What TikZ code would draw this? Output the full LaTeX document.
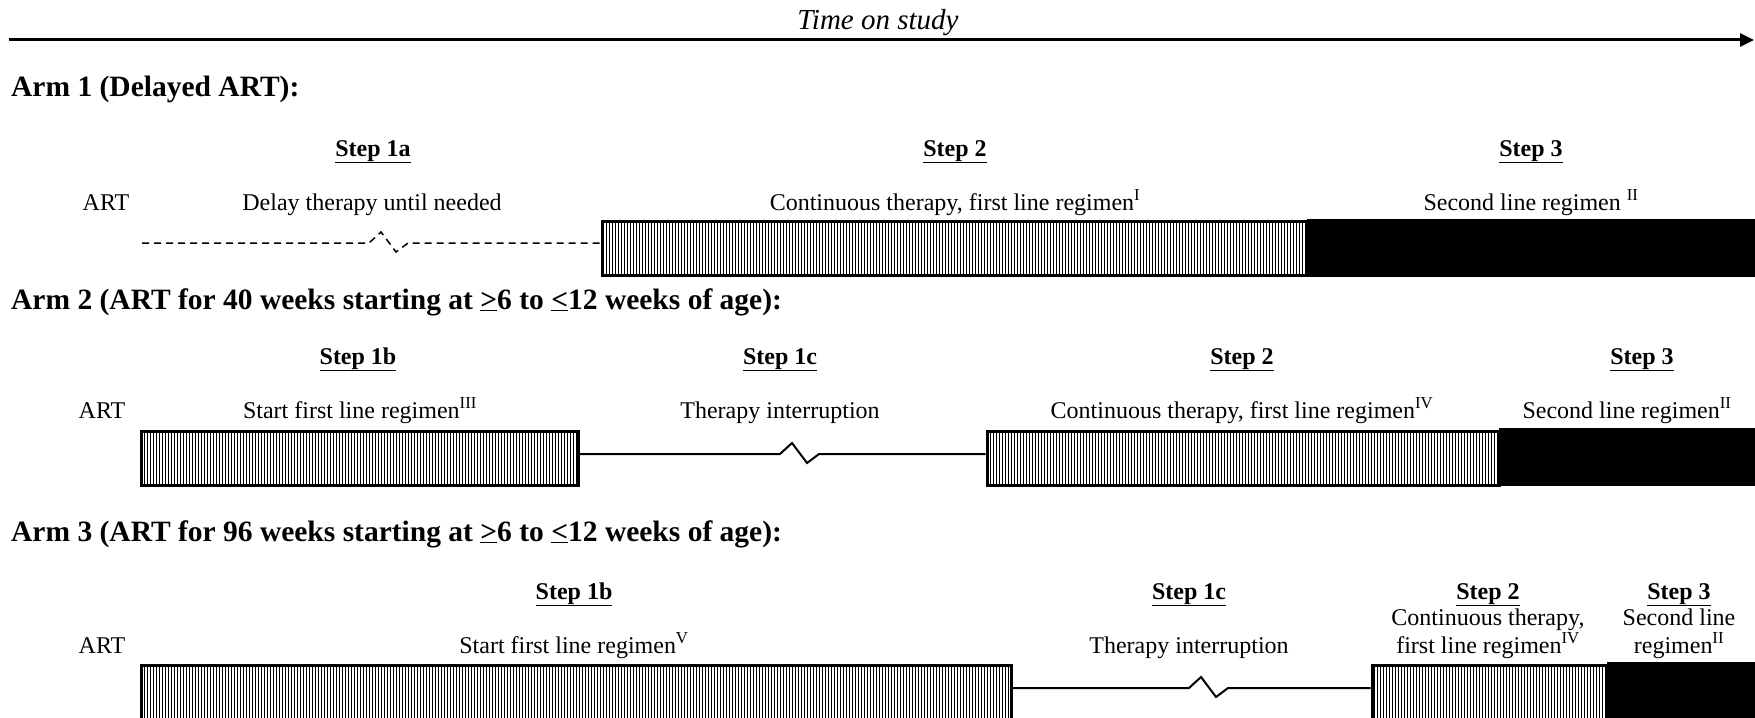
\documentclass[tikz,border=0pt]{standalone}
\usepackage{fontspec}
\setmainfont{Liberation Serif}
\usetikzlibrary{arrows.meta,patterns.meta}
\begin{document}
\begin{tikzpicture}[x=1pt,y=-1pt,
  body/.style={font=\fontsize{24}{28}\selectfont, inner sep=0pt, anchor=base},
  steplabel/.style={font=\fontsize{24}{28}\selectfont\bfseries, inner sep=0pt, anchor=base},
  armhead/.style={font=\fontsize{29.5}{34}\selectfont\bfseries, inner sep=0pt, anchor=base west},
  hatchbar/.style={draw, line width=3pt, pattern={Lines[angle=90,distance=3pt,line width=1pt]}, minimum height=54pt, inner sep=0pt, anchor=north west},
  blackbar/.style={fill=black, draw=black, line width=0.5pt, minimum height=56.5pt, inner sep=0pt, anchor=north west},
  gapline/.style={line width=2pt},
  delayline/.style={line width=1.5pt, dash pattern=on 7pt off 5pt},
  timeaxis/.style={line width=3pt, -{Triangle[length=14pt,width=13pt]}},
]
\useasboundingbox (0,0) rectangle (1755,717);
\clip (0,0) rectangle (1755,717);

% time axis
\node[font=\fontsize{29}{34}\selectfont\itshape, inner sep=0pt, anchor=base] (title) at (878,30) {Time on study};
\coordinate (ax0) at (9,40);
\coordinate (ax1) at (1754,40);
\draw[timeaxis] (ax0) -- (ax1);

% ---------------- Arm 1
\node[armhead] (h1) at (11,96) {Arm 1 (Delayed ART):};
\node[steplabel] (s1a) at (373,156) {\underline{Step 1a}};
\node[steplabel] (s12) at (955,156) {\underline{Step 2}};
\node[steplabel] (s13) at (1531,156) {\underline{Step 3}};
\node[body] (art1) at (106,210) {ART};
\node[body] (t1a) at (372,210) {Delay therapy until needed};
\node[body] (t12) at (955,210) {Continuous therapy, first line regimen\textsuperscript{I}};
\node[body] (t13) at (1531,210) {Second line regimen \textsuperscript{II}};
\node[hatchbar, minimum width=704pt] (b12) at (601.5,220.5) {};
\node[blackbar, minimum width=460pt] (b13) at (1307,219) {};
\coordinate (d0) at (142,243);
\coordinate (z1) at (369,243);
\draw[delayline] (d0) -- (z1) -- ++(12,-11) -- ++(15,20) -- ++(12,-9) -- (b12.west |- z1);

% ---------------- Arm 2
\node[armhead] (h2) at (11,309) {Arm 2 (ART for 40 weeks starting at \underline{>}6 to \underline{<}12 weeks of age):};
\node[steplabel] (s21b) at (358,364) {\underline{Step 1b}};
\node[steplabel] (s21c) at (780,364) {\underline{Step 1c}};
\node[steplabel] (s22) at (1242,364) {\underline{Step 2}};
\node[steplabel] (s23) at (1642,364) {\underline{Step 3}};
\node[body] (art2) at (102,418) {ART};
\node[body] (t21b) at (360,418) {Start first line regimen\textsuperscript{III}};
\node[body] (t21c) at (780,418) {Therapy interruption};
\node[body] (t22) at (1242,418) {Continuous therapy, first line regimen\textsuperscript{IV}};
\node[body] (t23) at (1627,418) {Second line regimen\textsuperscript{II}};
\node[hatchbar, minimum width=437pt] (b21) at (139.5,429.5) {};
\node[hatchbar, minimum width=512pt] (b22) at (985.5,429.5) {};
\node[blackbar, minimum width=260pt] (b23) at (1499,428) {};
\coordinate (z2) at (780,454);
\draw[gapline] (b21.east |- z2) -- (z2) -- ++(12,-11) -- ++(15,20) -- ++(12,-9) -- (b22.west |- z2);

% ---------------- Arm 3
\node[armhead] (h3) at (11,541) {Arm 3 (ART for 96 weeks starting at \underline{>}6 to \underline{<}12 weeks of age):};
\node[steplabel] (s31b) at (574,599) {\underline{Step 1b}};
\node[steplabel] (s31c) at (1189,599) {\underline{Step 1c}};
\node[steplabel] (s32) at (1488,599) {\underline{Step 2}};
\node[steplabel] (s33) at (1679,599) {\underline{Step 3}};
\node[body] (art3) at (102,653) {ART};
\node[body] (t31b) at (574,653) {Start first line regimen\textsuperscript{V}};
\node[body] (t31c) at (1189,653) {Therapy interruption};
\node[body] (t32a) at (1488,625) {Continuous therapy,};
\node[body] (t32b) at (1488,653) {first line regimen\textsuperscript{IV}};
\node[body] (t33a) at (1679,625) {Second line};
\node[body] (t33b) at (1679,653) {regimen\textsuperscript{II}};
\node[hatchbar, minimum width=870pt] (b31) at (139.5,663.5) {};
\node[hatchbar, minimum width=235pt] (b32) at (1370.5,663.5) {};
\node[blackbar, minimum width=152pt] (b33) at (1607,662) {};
\coordinate (z3) at (1189,688);
\draw[gapline] (b31.east |- z3) -- (z3) -- ++(12,-11) -- ++(15,20) -- ++(12,-9) -- (b32.west |- z3);
\end{tikzpicture}
\end{document}
